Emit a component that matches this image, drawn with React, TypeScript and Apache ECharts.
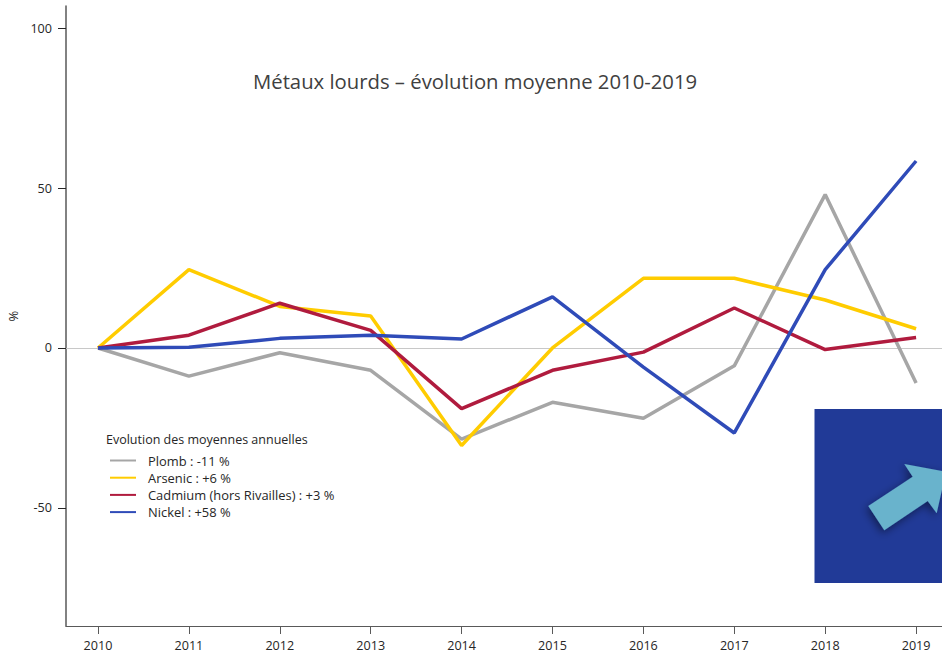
import React, { useEffect, useRef } from "react";
import * as echarts from "echarts";

const years = [2010, 2011, 2012, 2013, 2014, 2015, 2016, 2017, 2018, 2019];
const yTicks = [-50, 0, 50, 100];
const plomb = [0, -8.8, -1.5, -7, -28.5, -17, -22, -5.6, 48, -11];
const arsenic = [0, 24.5, 13, 10, -30.5, 0, 21.8, 21.8, 15, 6];
const cadmium = [0, 4, 14, 5.5, -19, -7, -1.3, 12.5, -0.5, 3.3];
const nickel = [0, 0.2, 3, 4, 2.8, 16, -6, -26.6, 24.5, 58.5];
const seriesDefs = [
  { name: "Plomb : -11 %", values: plomb, color: "#A6A6A6" },
  { name: "Arsenic : +6 %", values: arsenic, color: "#FFCC00" },
  { name: "Cadmium (hors Rivailles) : +3 %", values: cadmium, color: "#B01B3E" },
  { name: "Nickel : +58 %", values: nickel, color: "#2F4BB8" },
];
const FONT = "'Open Sans', sans-serif";

export default function App() {
  const ref = useRef<HTMLDivElement>(null);
  useEffect(() => {
    const chart = echarts.init(ref.current!, undefined, { renderer: "svg" });
    chart.setOption({
      animation: false,
      backgroundColor: "#fff",
      grid: { left: 66, right: 0, top: 6, bottom: 25, containLabel: false, outerBoundsMode: "none" },
      xAxis: {
        type: "value",
        min: 2009.648,
        max: 2019.285,
        splitLine: { show: false },
        axisLine: { show: true, onZero: false, lineStyle: { color: "#595959", width: 1.2 } },
        axisTick: { show: true, length: 8, customValues: years, lineStyle: { color: "#595959" } },
        axisLabel: { customValues: years, color: "#262626", fontFamily: FONT, fontSize: 12.6, lineHeight: 11, margin: 14, formatter: (v: number) => String(v) },
      },
      yAxis: {
        type: "value",
        min: -87,
        max: 107,
        name: "%",
        nameLocation: "middle",
        nameGap: 47,
        nameTextStyle: { color: "#262626", fontFamily: FONT, fontSize: 13 },
        splitLine: { show: false },
        axisLine: { show: true, onZero: false, lineStyle: { color: "#595959", width: 1.5 } },
        axisTick: { show: true, length: 8, customValues: yTicks, lineStyle: { color: "#262626" } },
        axisLabel: { customValues: yTicks, color: "#262626", fontFamily: FONT, fontSize: 12.6, margin: 14, formatter: (v: number) => String(v) },
      },
      legend: {
        orient: "vertical",
        left: 110,
        top: 454,
        itemWidth: 26,
        itemHeight: 2,
        itemGap: 4.2,
        padding: 0,
        icon: "rect",
        textStyle: { color: "#262626", fontFamily: FONT, fontSize: 12.9, lineHeight: 13, padding: [0, 0, 0, 7] },
        data: seriesDefs.map((s) => s.name),
      },
      series: seriesDefs.map((s, idx) => ({
        type: "line",
        name: s.name,
        data: years.map((y, i) => [y, s.values[i]]),
        symbol: "none",
        z: 3 + idx,
        lineStyle: { color: s.color, width: 3.5 },
        itemStyle: { color: s.color },
        markLine:
          idx === 0
            ? {
                silent: true,
                symbol: "none",
                label: { show: false },
                z: 1,
                lineStyle: { color: "#C8C8C8", width: 1, type: "solid" },
                data: [{ yAxis: 0 }],
              }
            : undefined,
      })),
      graphic: [
        {
          type: "text",
          z: 20,
          left: 253,
          top: 71,
          style: { text: "Métaux lourds – évolution moyenne 2010-2019", fill: "#404040", font: `20.3px ${FONT}` },
        },
        {
          type: "text",
          z: 20,
          left: 106,
          top: 433,
          style: { text: "Evolution des moyennes annuelles", fill: "#262626", font: `12.5px ${FONT}` },
        },
        {
          type: "rect",
          z: 20,
          shape: { x: 814.5, y: 409, width: 128, height: 174 },
          style: { fill: "#213A97" },
        },
        {
          type: "polygon",
          z: 21,
          shape: {
            points: [
              [868.3, 506],
              [912.7, 476.7],
              [904.3, 464],
              [946, 471.7],
              [936.7, 513.3],
              [927.7, 501],
              [884.3, 530.3],
            ],
          },
          style: { fill: "#69B3CC", shadowBlur: 8, shadowColor: "rgba(0,0,0,0.45)", shadowOffsetX: -2, shadowOffsetY: 3 },
        },
      ],
    });
    return () => chart.dispose();
  }, []);
  return <div ref={ref} style={{ position: "absolute", left: 0, top: 0, width: 942, height: 651 }} />;
}
